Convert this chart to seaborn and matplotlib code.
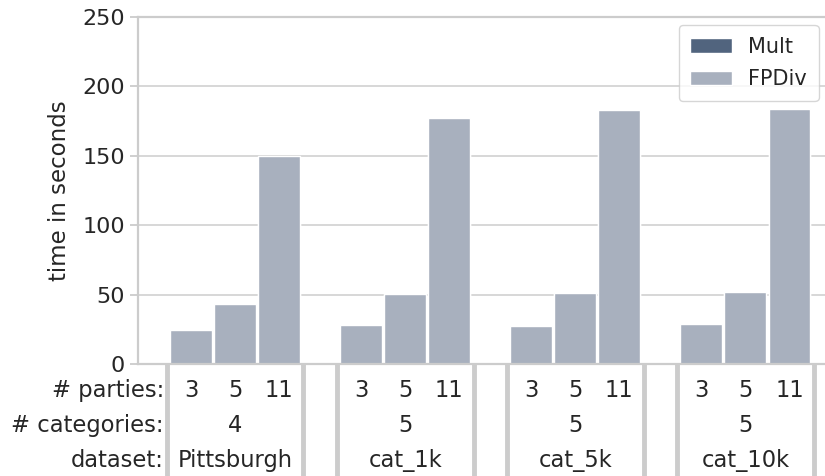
import numpy as np
import pandas as pd
import matplotlib.pyplot as plt
import matplotlib.transforms as mtransforms
import seaborn as sns

datasets = ['Pittsburgh', 'cat_1k', 'cat_5k', 'cat_10k']
categories = [4, 5, 5, 5]
parties = [3, 5, 11]
fpdiv = [[24.5, 43.2, 149.5],
         [28.1, 50.4, 177.2],
         [27.4, 51.1, 183.0],
         [28.8, 51.9, 183.7]]
mult = [[24.2, 42.9, 149.0],
        [27.8, 50.1, 176.8],
        [27.1, 50.8, 182.6],
        [28.5, 51.6, 183.3]]

sns.set_style('whitegrid')
plt.rcParams['font.family'] = ['DejaVu Sans']

group_step = 3.86
rows = []
for g, ds in enumerate(datasets):
    for i, p in enumerate(parties):
        pos = g * group_step + i
        rows.append({'pos': pos, 'method': 'Mult', 'time': mult[g][i]})
        rows.append({'pos': pos, 'method': 'FPDiv', 'time': fpdiv[g][i]})
df = pd.DataFrame(rows)

fig = plt.figure(figsize=(8.25, 4.76), dpi=100)
ax = fig.add_axes([0.1673, 0.2353, 0.835, 0.729])
sns.barplot(data=df, x='pos', y='time', hue='method', native_scale=True,
            dodge=False, width=0.95, errorbar=None, ax=ax,
            palette={'Mult': '#4a6385', 'FPDiv': '#a4afc2'},
            hue_order=['Mult', 'FPDiv'])

ax.set_xlim(-1.205, 14.43)
ax.set_ylim(0, 250)
ax.set_yticks([0, 50, 100, 150, 200, 250])
ax.xaxis.grid(False)
ax.yaxis.grid(True, color='#d4d4d4', lw=1.3)
ax.set_xticks([])
ax.set_xlabel('')
ax.set_ylabel('time in seconds', fontsize=16.5, color='#262626', labelpad=8)
ax.tick_params(axis='y', labelsize=16, left=True, length=6, width=1.3,
               color='#cccccc', labelcolor='#262626')
for s in ax.spines.values():
    s.set_color('#cccccc')
    s.set_linewidth(1.6)

leg = ax.legend(loc='upper right', fontsize=15, frameon=True,
                handlelength=2.0, borderpad=0.55, labelspacing=0.6,
                borderaxespad=0.4)
leg.get_frame().set_edgecolor('#cccccc')

trans = mtransforms.blended_transform_factory(ax.transData, ax.transAxes)
row_y = [-0.075, -0.178, -0.278]
row_names = ['# parties:', '# categories:', 'dataset:']
for y, name in zip(row_y, row_names):
    ax.text(-0.62, y, name, transform=trans, ha='right', va='center',
            fontsize=16.3, color='#262626')

for g, ds in enumerate(datasets):
    base = g * group_step
    for i, p in enumerate(parties):
        ax.text(base + i, row_y[0], str(p), transform=trans, ha='center',
                va='center', fontsize=16.3, color='#262626')
    ax.text(base + 1, row_y[1], str(categories[g]), transform=trans,
            ha='center', va='center', fontsize=16.3, color='#262626')
    ax.text(base + 1, row_y[2], ds, transform=trans, ha='center',
            va='center', fontsize=16.3, color='#262626')
    for edge in (base - 0.55, base + 2.55):
        ax.plot([edge, edge], [0, -0.33], transform=trans, color='#cccccc',
                lw=3.5, clip_on=False, solid_capstyle='butt')

fig.savefig('out.png', dpi=100)
